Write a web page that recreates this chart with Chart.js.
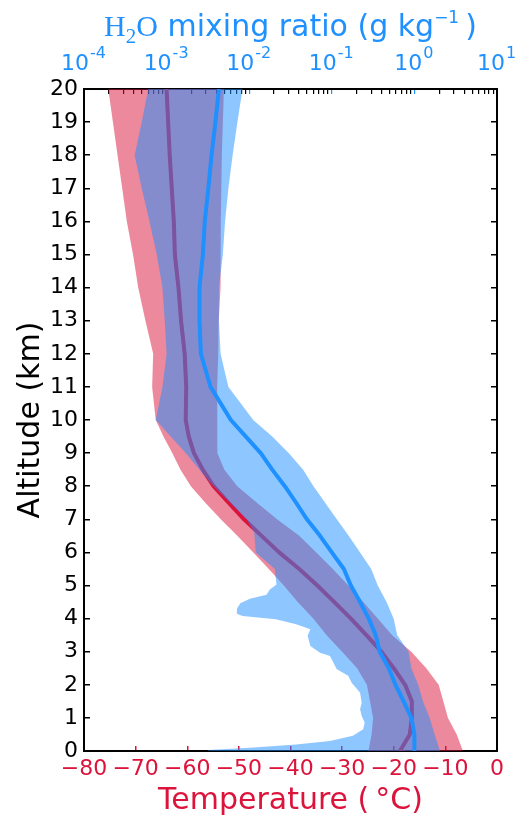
<!DOCTYPE html>
<html>
<head>
<meta charset="utf-8">
<title>Temperature and water vapour profile</title>
<script src="https://cdn.jsdelivr.net/npm/chart.js@4.4.1/dist/chart.umd.min.js"></script>
<style>
	body { margin: 0; background: #fff; }
	canvas { display: block; }
</style>
</head>
<body>
<canvas id="profileChart" width="515" height="821"></canvas>
<script>
// altitude grid (km) used by the temperature series and by the mean / upper water vapour series
var altitude = [0, 0.5, 1, 1.5, 2, 2.5, 3, 3.5, 4, 4.5, 5, 5.5, 6, 6.5, 7, 7.5, 8, 8.5, 9, 9.5, 10, 11, 12, 13, 14, 15, 16, 17, 18, 19, 20];

// temperature (deg C): mean and spread
var tempMean = [-18.8, -16.9, -16.5, -16.5, -17.8, -20.0, -22.4, -25.3, -28.3, -31.5, -34.8, -38.3, -42.2, -45.6, -49.0, -52.0, -54.9, -57.0, -58.7, -59.7, -60.3, -60.2, -60.5, -61.2, -61.7, -62.4, -62.6, -63.0, -63.4, -63.7, -64.0];
var tempLow = [-24.9, -24.3, -24.0, -24.6, -25.2, -27.1, -30.0, -33.0, -35.6, -38.6, -41.3, -44.2, -47.2, -50.3, -53.5, -56.5, -59.3, -61.3, -62.9, -64.6, -66.1, -66.8, -66.6, -68.1, -69.5, -70.5, -71.7, -72.6, -73.5, -74.4, -75.3];
var tempHigh = [-6.6, -7.8, -9.5, -10.4, -11.3, -13.7, -16.6, -20.3, -23.1, -25.9, -28.8, -31.8, -35.0, -38.3, -42.6, -46.5, -50.3, -52.8, -54.1, -54.2, -54.2, -54.2, -54.0, -53.9, -53.6, -53.5, -53.5, -53.4, -53.3, -53.1, -52.9];

// H2O mixing ratio (g/kg): mean and upper edge on the altitude grid
var mixMean = [1.0, 1.0, 0.92, 0.74, 0.59, 0.49, 0.38, 0.34, 0.28, 0.22, 0.17, 0.14, 0.10, 0.072, 0.050, 0.037, 0.027, 0.019, 0.0138, 0.0091, 0.0060, 0.0034, 0.0026, 0.0025, 0.0025, 0.00275, 0.0029, 0.0032, 0.0035, 0.0039, 0.0043];
var mixHigh = [2.04, 1.76, 1.53, 1.27, 1.11, 0.92, 0.85, 0.62, 0.56, 0.46, 0.36, 0.30, 0.22, 0.16, 0.115, 0.083, 0.060, 0.045, 0.030, 0.019, 0.0112, 0.0056, 0.0045, 0.0043, 0.0043, 0.0048, 0.0051, 0.0056, 0.0063, 0.0072, 0.0083];

// lower edge of the mixing ratio spread has its own altitudes (ragged edge)
var mixLowAlt = [0, 0.03, 0.1, 0.2, 0.3, 0.46, 0.66, 0.86, 1.06, 1.26, 1.46, 1.76, 2.06, 2.27, 2.47, 2.87, 2.97, 3.17, 3.48, 3.68, 3.83, 3.98, 4.08, 4.15, 4.3, 4.46, 4.6, 4.72, 4.88, 5.03, 5.5, 6.0, 6.6, 7.0, 8.1, 9.0, 10.0, 11, 12, 13, 14, 15, 16, 17, 18, 19, 20];
var mixLow = [0.0032, 0.0032, 0.0102, 0.037, 0.095, 0.18, 0.24, 0.25, 0.23, 0.22, 0.23, 0.22, 0.174, 0.158, 0.115, 0.095, 0.072, 0.055, 0.051, 0.055, 0.037, 0.021, 0.0083, 0.0071, 0.0071, 0.0078, 0.0102, 0.0162, 0.0178, 0.0214, 0.0204, 0.0120, 0.0115, 0.0093, 0.0034, 0.0017, 0.00074, 0.00089, 0.00100, 0.00095, 0.00089, 0.00076, 0.00062, 0.00050, 0.00041, 0.00050, 0.00060];

// tick values
var tempTicks = [-80, -70, -60, -50, -40, -30, -20, -10, 0];
var mixTicks = [1e-4, 1e-3, 1e-2, 1e-1, 1, 10];
var altTicks = [0, 1, 2, 3, 4, 5, 6, 7, 8, 9, 10, 11, 12, 13, 14, 15, 16, 17, 18, 19, 20];

var red = '#dc143c';
var blue = '#1e90ff';

Chart.defaults.font.family = '"DejaVu Sans", sans-serif';
Chart.defaults.color = '#000';

// vertical profile -> {x, y} points
function profile(alts, vals) {
	return alts.map(function(a, i) { return {x: vals[i], y: a}; });
}
// closed shape: up the low edge, back down the high edge
function band(altLo, lo, altHi, hi) {
	return profile(altLo, lo).concat(profile(altHi, hi).reverse());
}

// log axis: decades are major, 2..9 are minor
var mixAxisTicks = [];
mixTicks.forEach(function(d, i) {
	mixAxisTicks.push({value: d, major: true});
	if (i < mixTicks.length - 1) {
		for (var k = 2; k < 10; k++) mixAxisTicks.push({value: k * d, major: false});
	}
});

// top axis labels (10 with superscript) and title, drawn at the scale's own pixels
var topLabels = {
	id: 'topLabels',
	afterDraw: function(chart) {
		var ctx = chart.ctx;
		var scale = chart.scales.x2;
		ctx.save();
		ctx.fillStyle = blue;
		ctx.textBaseline = 'alphabetic';
		ctx.textAlign = 'left';
		mixTicks.forEach(function(v) {
			var exp = String(Math.round(Math.log10(v)));
			ctx.font = '22px "DejaVu Sans"';
			var w1 = ctx.measureText('10').width;
			ctx.font = '16px "DejaVu Sans"';
			var w2 = ctx.measureText(exp).width;
			var x = scale.getPixelForValue(v) - (w1 + w2) / 2 - 1;
			ctx.font = '22px "DejaVu Sans"';
			ctx.fillText('10', x, 70);
			ctx.font = '16px "DejaVu Sans"';
			ctx.fillText(exp, x + w1 + 1, 58);
		});
		var parts = [
			['H', '30px "Liberation Serif"', 36],
			['2', '21px "Liberation Serif"', 43],
			['O', '30px "Liberation Serif"', 36],
			[' mixing ratio (g kg', '30px "DejaVu Sans"', 36],
			['\u22121', '17px "DejaVu Sans"', 23],
			['\u2009)', '30px "DejaVu Sans"', 36]
		];
		var total = 0;
		parts.forEach(function(p) {
			ctx.font = p[1];
			p.push(ctx.measureText(p[0]).width);
			total += p[3];
		});
		var x = (chart.chartArea.left + chart.chartArea.right) / 2 - total / 2;
		parts.forEach(function(p) {
			ctx.font = p[1];
			ctx.fillText(p[0], x, p[2]);
			x += p[3];
		});
		ctx.restore();
	}
};

// datasets: first one is drawn on top
var datasets = [{
	label: 'H2O mean',
	data: profile(altitude, mixMean),
	xAxisID: 'x2', yAxisID: 'y',
	borderColor: blue, borderWidth: 4, borderJoinStyle: 'round',
	fill: false, pointRadius: 0
}, {
	label: 'H2O spread',
	data: band(mixLowAlt, mixLow, altitude, mixHigh),
	xAxisID: 'x2', yAxisID: 'y',
	borderColor: 'transparent', borderWidth: 0,
	backgroundColor: 'rgba(30, 144, 255, 0.5)',
	fill: 'shape', pointRadius: 0
}, {
	label: 'T mean',
	data: profile(altitude, tempMean),
	xAxisID: 'x', yAxisID: 'y',
	borderColor: red, borderWidth: 4, borderJoinStyle: 'round',
	fill: false, pointRadius: 0
}, {
	label: 'T spread',
	data: band(altitude, tempLow, altitude, tempHigh),
	xAxisID: 'x', yAxisID: 'y',
	borderColor: 'transparent', borderWidth: 0,
	backgroundColor: 'rgba(220, 20, 60, 0.5)',
	fill: 'shape', pointRadius: 0
}];

var profileChart = new Chart(document.getElementById('profileChart'), {
	type: 'line',
	data: { datasets: datasets },
	options: {
		responsive: false,
		animation: false,
		indexAxis: 'y',
		layout: { padding: 0 },
		plugins: {
			legend: { display: false },
			tooltip: { enabled: false }
		},
		scales: {
			x: {
				type: 'linear', position: 'bottom', min: -80, max: 0,
				afterBuildTicks: function(s) { s.ticks = tempTicks.map(function(v) { return {value: v}; }); },
				afterFit: function(s) { s.height = 70; },
				ticks: {
					color: red, font: { size: 22 }, padding: 10, autoSkip: false, maxRotation: 0,
					callback: function(v) { return v < 0 ? '\u2212' + (-v) : String(v); }
				},
				grid: { drawOnChartArea: false, color: red, tickLength: -5, lineWidth: 1.5 },
				border: { color: '#000', width: 2 },
				title: { display: true, text: 'Temperature (\u2009°C)', color: red, font: { size: 30 }, padding: { top: 0, bottom: 2 } }
			},
			x2: {
				type: 'logarithmic', position: 'top', min: 1e-4, max: 10,
				afterBuildTicks: function(s) { s.ticks = mixAxisTicks.map(function(t) { return {value: t.value, major: t.major}; }); },
				afterFit: function(s) { s.height = 89; },
				ticks: { display: false },
				grid: {
					drawOnChartArea: false, tickLength: -5, lineWidth: 1.2,
					color: function(c) { return (c.tick && c.tick.major) ? blue : '#000'; }
				},
				border: { color: '#000', width: 2 }
			},
			y: {
				type: 'linear', position: 'left', min: 0, max: 20,
				afterBuildTicks: function(s) { s.ticks = altTicks.map(function(v) { return {value: v}; }); },
				afterFit: function(s) { s.width = 84; },
				ticks: { color: '#000', font: { size: 22 }, padding: 12, autoSkip: false },
				grid: { drawOnChartArea: false, color: '#000', tickLength: -6, lineWidth: 1.5 },
				border: { color: '#000', width: 2 },
				title: { display: true, text: 'Altitude (km)', color: '#000', font: { size: 30 }, padding: { top: 13, bottom: 0 } }
			},
			y2: {
				type: 'linear', position: 'right', min: 0, max: 20,
				afterBuildTicks: function(s) { s.ticks = altTicks.map(function(v) { return {value: v}; }); },
				afterFit: function(s) { s.width = 18; },
				ticks: { display: false },
				grid: { drawOnChartArea: false, color: '#000', tickLength: -6, lineWidth: 1.5 },
				border: { color: '#000', width: 2 }
			}
		}
	},
	plugins: [topLabels]
});
</script>
</body>
</html>
